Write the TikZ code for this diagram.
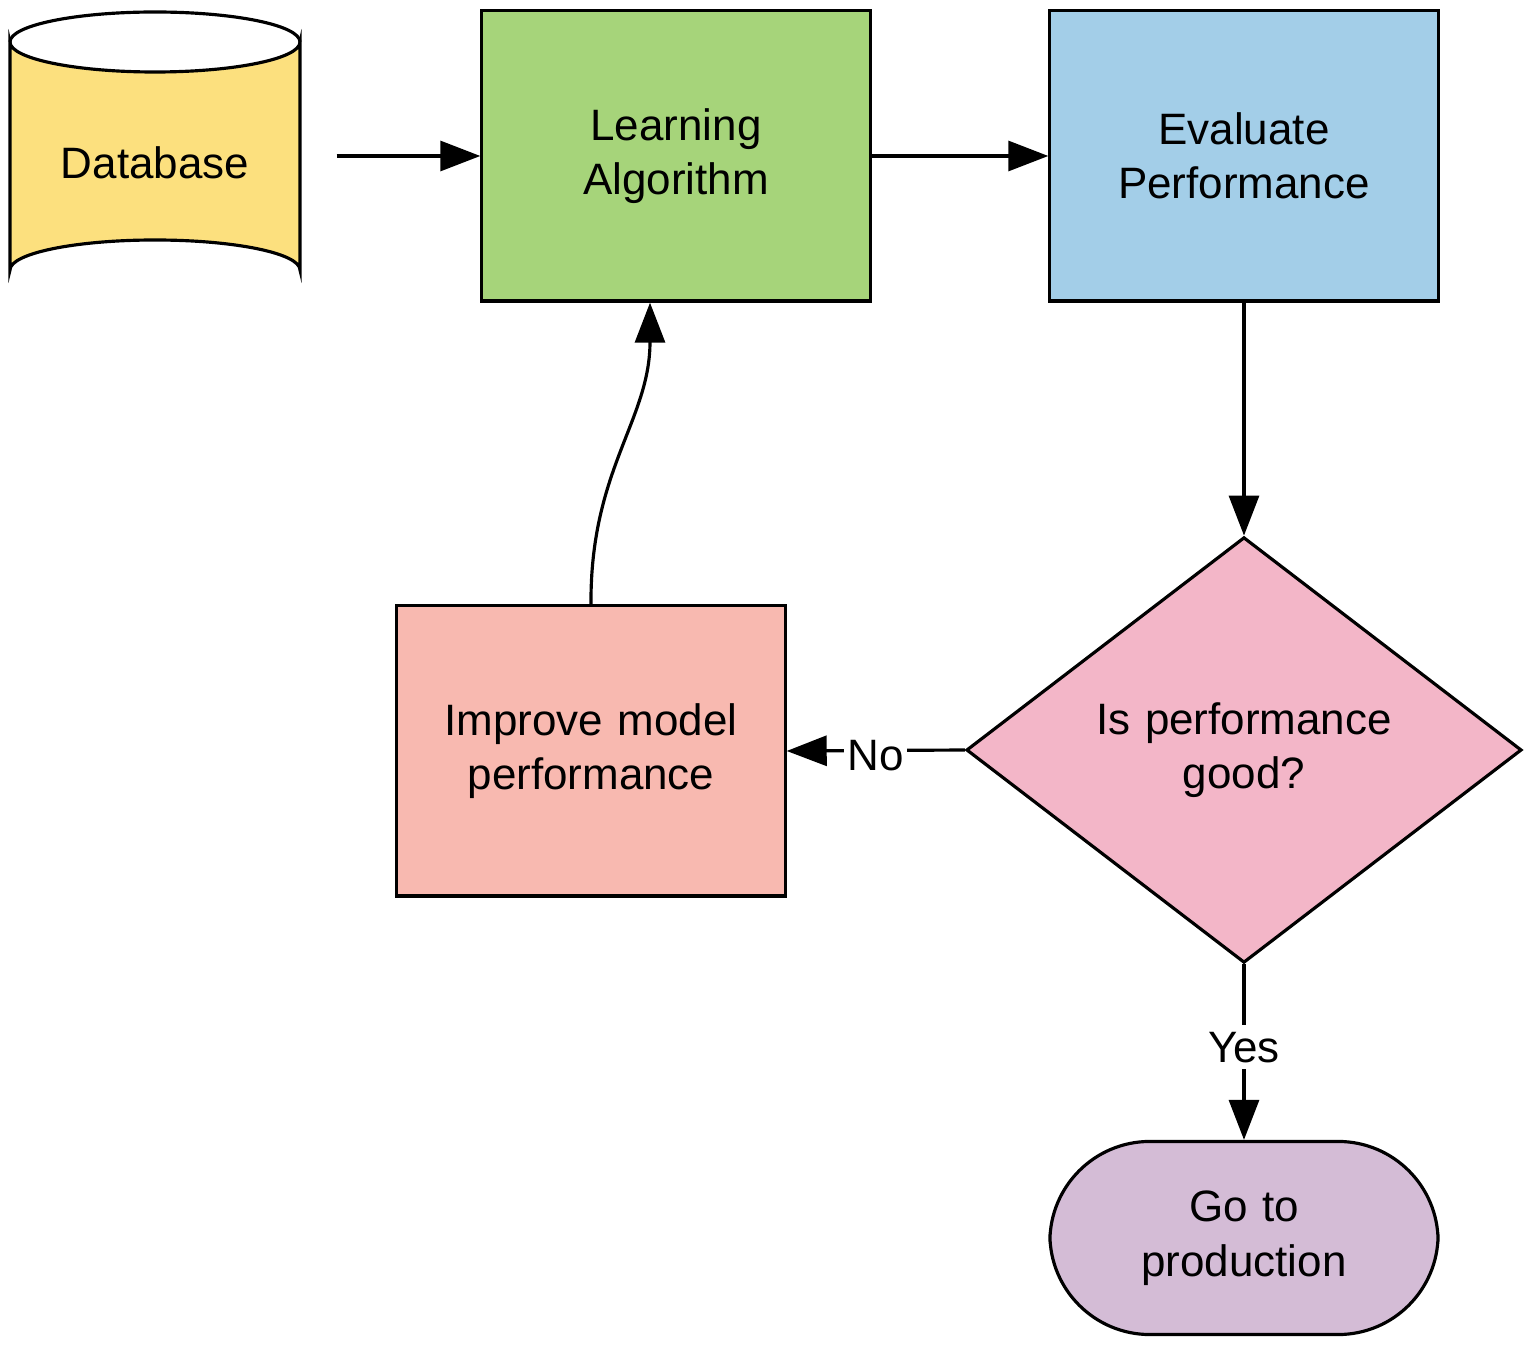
\documentclass[tikz,border=0pt]{standalone}
\usepackage{fontspec}
\setmainfont{Liberation Sans}
\usetikzlibrary{arrows.meta,shapes.geometric}
\definecolor{dbyellow}{HTML}{FCE07E}
\definecolor{lagreen}{HTML}{A6D47A}
\definecolor{evblue}{HTML}{A3CEE8}
\definecolor{dpink}{HTML}{F3B6C8}
\definecolor{impsalmon}{HTML}{F8B9B0}
\definecolor{goviolet}{HTML}{D4BCD6}
\begin{document}
\begin{tikzpicture}[x=0.01cm,y=-0.01cm,
  line width=0.9pt,
  txt/.style={font=\fontsize{12.5}{15.5}\selectfont,align=center,text width=3.6cm},
  box/.style={txt,draw,minimum width=3.88cm,minimum height=2.9cm,inner sep=0pt},
  arr/.style={-{Triangle[length=0.4cm,width=0.3cm]}}]
\useasboundingbox (0,0) rectangle (1535,1346);
% database cylinder
\draw[fill=dbyellow] (10,42) -- (10,270) arc[start angle=180,end angle=360,x radius=145,y radius=30]
  -- (300,42) arc[start angle=0,end angle=180,x radius=145,y radius=30] -- cycle;
\draw (10,42) arc[start angle=180,end angle=360,x radius=145,y radius=30];
\node[txt,minimum width=2.9cm,minimum height=2.88cm,inner sep=0pt] (db) at (155,156) {\raisebox{-0.45cm}{Database}};
\node[box,fill=lagreen] (la) at (676,156) {Learning\\Algorithm\\[0.25cm]};
\node[box,fill=evblue] (ev) at (1244,156) {Evaluate\\Performance\\[0.25cm]};
\node[txt,draw,diamond,fill=dpink,minimum width=5.55cm,minimum height=4.15cm,inner sep=0pt,text width=3.3cm] (dec) at (1244,750) {Is performance\\good?\\[0.3cm]};
\node[box,fill=impsalmon] (imp) at (591,751) {Improve model\\performance\\[0.3cm]};
\node[box,fill=goviolet,rounded corners=1.0cm,minimum height=1.93cm] (go) at (1244,1238) {Go to\\production\\[0.25cm]};
% connectors
\draw[arr] (db.east) -- (la.west);
\draw[arr] (la.east) -- (ev.west);
\draw[arr] (ev.south) -- (dec.north);
\draw[arr] (dec.west) -- node[txt,fill=white,text width=,inner sep=1pt,yshift=-0.05cm] {No} (imp.east);
\draw[arr] (dec.south) -- node[txt,fill=white,text width=,inner sep=2pt,yshift=0.05cm] {Yes} (go.north);
\draw[arr] (imp.north) .. controls (590,470) and (650,420) .. (la.south -| 650,0);
\end{tikzpicture}
\end{document}
